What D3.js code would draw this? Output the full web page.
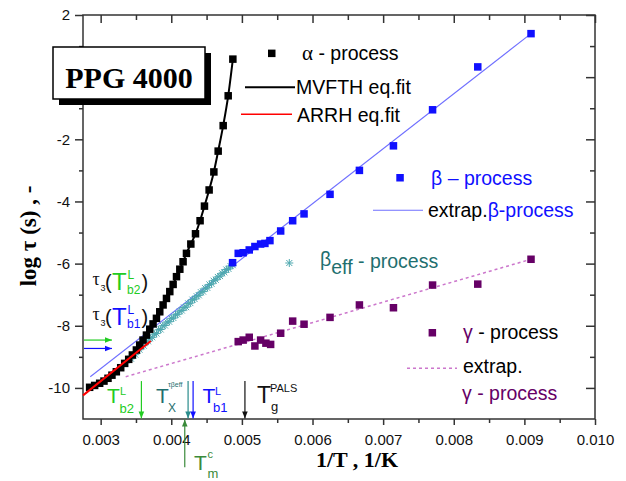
<!DOCTYPE html>
<html>
<head>
<meta charset="utf-8">
<script src="https://cdn.jsdelivr.net/npm/d3@7"></script>
<style>
  body { margin: 0; background: #fff; }
  text { font-family: "Liberation Sans", Arial, sans-serif; }
  .serif { font-family: "Liberation Serif", "Times New Roman", serif; }
</style>
</head>
<body>
<div id="chart"></div>
<script>
// ---- data ----
// alpha process (black squares, also used for the MVFTH fit curve)
const alphaX = [0.002844, 0.002915, 0.002986, 0.003047, 0.003104, 0.00316, 0.003222, 0.003284, 0.00334, 0.003397,
  0.003449, 0.003506, 0.003553, 0.0036, 0.003648, 0.003695, 0.003742, 0.00379, 0.003837, 0.003884,
  0.003932, 0.003979, 0.004026, 0.004074, 0.004121, 0.004167, 0.004215, 0.004277, 0.004343, 0.004408,
  0.00447, 0.004536, 0.004603, 0.004664, 0.004735, 0.004806, 0.004872];
const alphaY = [-9.98, -9.92, -9.85, -9.78, -9.69, -9.59, -9.48, -9.35, -9.21, -9.08,
  -8.94, -8.78, -8.62, -8.46, -8.30, -8.11, -7.94, -7.76, -7.55, -7.33,
  -7.12, -6.90, -6.67, -6.42, -6.18, -5.94, -5.67, -5.37, -5.04, -4.62,
  -4.15, -3.63, -3.05, -2.38, -1.56, -0.60, 0.58];

// beta process (blue squares)
const betaX = [0.004868, 0.004948, 0.005018, 0.005104, 0.005184, 0.005265, 0.005326, 0.005397, 0.005549,
  0.005719, 0.00588, 0.006248, 0.006664, 0.007146, 0.0077, 0.00834, 0.009094];
const betaY = [-5.97, -5.67, -5.65, -5.56, -5.45, -5.37, -5.35, -5.26, -4.95,
  -4.62, -4.40, -3.77, -3.00, -2.21, -1.05, 0.33, 1.40];

// beta_eff process (teal asterisks)
const betaEffX = [0.00340, 0.00343, 0.00346, 0.00349, 0.00352, 0.00355, 0.00358, 0.00361, 0.00364, 0.00367,
  0.00370, 0.00373, 0.00376, 0.00379, 0.00382, 0.00385, 0.00388, 0.00391, 0.00394, 0.00397,
  0.00400, 0.00403, 0.00406, 0.00409, 0.00412, 0.00415, 0.00418, 0.00421, 0.00424, 0.00427,
  0.00430, 0.00433, 0.00436, 0.00439, 0.00442, 0.00445, 0.00448, 0.00451, 0.00454, 0.00457,
  0.00460, 0.00463, 0.00466, 0.00469, 0.00472, 0.00475, 0.00478, 0.00481, 0.00484, 0.00487];
const betaEffY = [-9.10, -9.06, -8.96, -8.93, -8.80, -8.77, -8.66, -8.64, -8.52, -8.50,
  -8.40, -8.37, -8.27, -8.25, -8.13, -8.12, -8.00, -7.99, -7.88, -7.87,
  -7.76, -7.75, -7.65, -7.63, -7.53, -7.51, -7.41, -7.40, -7.28, -7.27,
  -7.16, -7.14, -7.05, -7.02, -6.92, -6.90, -6.79, -6.78, -6.67, -6.65,
  -6.55, -6.52, -6.43, -6.40, -6.31, -6.28, -6.19, -6.17, -6.08, -6.05];

// gamma process (purple squares)
const gammaX = [0.004948, 0.005018, 0.005104, 0.005184, 0.005265, 0.00534, 0.005407, 0.005549,
  0.005719, 0.00588, 0.006248, 0.006664, 0.007146, 0.0077, 0.00834, 0.009094];
const gammaY = [-8.51, -8.46, -8.37, -8.65, -8.46, -8.56, -8.60, -8.24,
  -7.85, -7.95, -7.73, -7.33, -7.42, -6.69, -6.66, -5.86];

// straight lines (end points)
const betaFitX = [0.002853, 0.009094], betaFitY = [-9.64, 1.40];
const arrhFitX = [0.00275, 0.00371], arrhFitY = [-10.24, -8.49];
const gammaFitX = [0.003355, 0.009094], gammaFitY = [-9.64, -5.86];

// ticks
const xMajor = [0.003, 0.004, 0.005, 0.006, 0.007, 0.008, 0.009, 0.010];
const xMinor = [0.0035, 0.0045, 0.0055, 0.0065, 0.0075, 0.0085, 0.0095];
const yMajor = [2, 0, -2, -4, -6, -8, -10];
const yMinor = [1, -1, -3, -5, -7, -9];

// marker arrows: temperatures on the x axis, levels on the y axis
const downArrowX = [0.003577, 0.004238, 0.004309, 0.005043];
const downArrowCol = ['#22cc22', '#2a8c8c', '#1010ff', '#111'];
const tmArrowX = 0.004191;
const levelArrowY = [-8.46, -8.73];
const levelArrowCol = ['#22cc22', '#1010ff'];

// ---- canvas ----
const W = 626, H = 481;
const svg = d3.select('#chart').append('svg')
  .attr('width', W).attr('height', H);

const x = d3.scaleLinear().domain([0.00275, 0.010]).range([83, 595]);
const y = d3.scaleLinear().domain([-11, 2]).range([419, 15]);

const green = '#22cc22', blue = '#1010ff', purple = '#660066', teal = '#1f6f6f';

// arrow head marker defs
const defs = svg.append('defs');
function marker(id, col) {
  defs.append('marker')
    .attr('id', id).attr('viewBox', '0 0 10 10')
    .attr('refX', 10).attr('refY', 5)
    .attr('markerWidth', 7).attr('markerHeight', 7)
    .attr('markerUnits', 'userSpaceOnUse')
    .attr('orient', 'auto')
    .append('path').attr('d', 'M0,1L10,5L0,9Z').attr('fill', col);
}

// ---- axes ----
const fmtX = d3.format('.3f');
const axisCol = '#333';

function styleAxis(g) {
  g.select('.domain').remove();
  g.selectAll('line').attr('stroke', axisCol).attr('stroke-width', 1.5);
  g.selectAll('text').attr('font-size', '15px').attr('fill', '#111')
    .style('font-family', '"Liberation Sans", Arial, sans-serif');
}

// bottom (outward, labelled)
svg.append('g').attr('transform', 'translate(0,419)')
  .call(d3.axisBottom(x).tickValues(xMajor).tickSize(6).tickPadding(9).tickFormat(fmtX))
  .call(styleAxis);
svg.append('g').attr('transform', 'translate(0,419)')
  .call(d3.axisBottom(x).tickValues(xMinor).tickSize(4).tickFormat(''))
  .call(styleAxis);
// top (inward)
svg.append('g').attr('transform', 'translate(0,15)')
  .call(d3.axisBottom(x).tickValues(xMajor).tickSize(8).tickFormat(''))
  .call(styleAxis);
svg.append('g').attr('transform', 'translate(0,15)')
  .call(d3.axisBottom(x).tickValues(xMinor).tickSize(5).tickFormat(''))
  .call(styleAxis);
// left (outward, labelled; the 0 label sits under the sample box)
svg.append('g').attr('transform', 'translate(83,0)')
  .call(d3.axisLeft(y).tickValues(yMajor).tickSize(8).tickPadding(5)
    .tickFormat(d => d === 0 ? '' : String(d)))
  .call(styleAxis);
svg.append('g').attr('transform', 'translate(83,0)')
  .call(d3.axisLeft(y).tickValues(yMinor).tickSize(4).tickFormat(''))
  .call(styleAxis);
// right (inward)
svg.append('g').attr('transform', 'translate(595,0)')
  .call(d3.axisLeft(y).tickValues(yMajor).tickSize(9).tickFormat(''))
  .call(styleAxis);
svg.append('g').attr('transform', 'translate(595,0)')
  .call(d3.axisLeft(y).tickValues(yMinor).tickSize(5).tickFormat(''))
  .call(styleAxis);

// frame
svg.append('rect')
  .attr('x', x(0.00275)).attr('y', y(2))
  .attr('width', x(0.010) - x(0.00275)).attr('height', y(-11) - y(2))
  .attr('fill', 'none').attr('stroke', axisCol).attr('stroke-width', 1.5);

// axis titles
svg.append('text').attr('class', 'serif')
  .attr('x', 357).attr('y', 467)
  .attr('text-anchor', 'middle')
  .attr('font-size', '22px').attr('font-weight', 'bold')
  .text('1/T , 1/K');

svg.append('text').attr('class', 'serif')
  .attr('transform', 'translate(36,236) rotate(-90)')
  .attr('text-anchor', 'middle')
  .attr('font-size', '23px').attr('font-weight', 'bold')
  .text('log \u03c4 (s) , -');

// ---- lines ----
const pts = (xs, ys) => xs.map((v, i) => [v, ys[i]]);
const line = d3.line().x(d => x(d[0])).y(d => y(d[1]));

svg.append('path').datum(pts(gammaFitX, gammaFitY))
  .attr('d', line).attr('fill', 'none')
  .attr('stroke', '#cc77cc').attr('stroke-width', 1.5).attr('stroke-dasharray', '3,3');

svg.append('path').datum(pts(betaFitX, betaFitY))
  .attr('d', line).attr('fill', 'none')
  .attr('stroke', '#6f6fff').attr('stroke-width', 1.1);

// ---- asterisks (beta_eff) ----
const star = 'M-4,0H4M0,-4V4M-3,-3L3,3M-3,3L3,-3';
svg.append('g').selectAll('path')
  .data(pts(betaEffX, betaEffY))
  .enter().append('path')
    .attr('transform', d => 'translate(' + x(d[0]) + ',' + y(d[1]) + ')')
    .attr('d', star)
    .attr('fill', 'none').attr('stroke', '#4fa9b0').attr('stroke-width', 1);

// ---- squares ----
const sq = 7.5;
function squares(xs, ys, col) {
  svg.append('g').selectAll('rect')
    .data(pts(xs, ys))
    .enter().append('rect')
      .attr('x', d => x(d[0]) - sq / 2)
      .attr('y', d => y(d[1]) - sq / 2)
      .attr('width', sq).attr('height', sq)
      .attr('fill', col);
}
squares(gammaX, gammaY, purple);
squares(betaX, betaY, blue);
squares(alphaX, alphaY, '#000');

// MVFTH fit through alpha points
svg.append('path').datum(pts(alphaX, alphaY))
  .attr('d', line.curve(d3.curveMonotoneX)).attr('fill', 'none')
  .attr('stroke', '#000').attr('stroke-width', 2);
line.curve(d3.curveLinear);

// ARRH fit
svg.append('path').datum(pts(arrhFitX, arrhFitY))
  .attr('d', line).attr('fill', 'none')
  .attr('stroke', '#ff0000').attr('stroke-width', 2);

// ---- arrows ----
downArrowX.forEach((v, i) => {
  marker('m' + i, downArrowCol[i]);
  svg.append('line')
    .attr('x1', x(v)).attr('x2', x(v))
    .attr('y1', y(-9.78)).attr('y2', y(-10.98))
    .attr('stroke', downArrowCol[i]).attr('stroke-width', 1.2)
    .attr('marker-end', 'url(#m' + i + ')');
});
marker('mtm', '#3a8a3a');
svg.append('line')
  .attr('x1', x(tmArrowX)).attr('x2', x(tmArrowX))
  .attr('y1', y(-12.55)).attr('y2', y(-11.02))
  .attr('stroke', '#3a8a3a').attr('stroke-width', 1.2)
  .attr('marker-end', 'url(#mtm)');

levelArrowY.forEach((v, i) => {
  marker('l' + i, levelArrowCol[i]);
  svg.append('line')
    .attr('x1', x(0.00275) + 1).attr('x2', x(0.00316))
    .attr('y1', y(v)).attr('y2', y(v))
    .attr('stroke', levelArrowCol[i]).attr('stroke-width', 1.2)
    .attr('marker-end', 'url(#l' + i + ')');
});

// ---- text helper: list of [text, x, y, size, colour, family] ----
function label(parts) {
  parts.forEach(p => {
    svg.append('text')
      .attr('x', p[1]).attr('y', p[2])
      .attr('font-size', p[3] + 'px')
      .attr('fill', p[4] || '#000')
      .style('font-family', p[5] || '"Liberation Sans", Arial, sans-serif')
      .text(p[0]);
  });
}
const SER = '"Liberation Serif", "Times New Roman", serif';

// tau3(T_b2), tau3(T_b1)
label([
  ['\u03c4', 92.5, 285, 18, '#111', SER], ['3', 100.5, 291, 9, '#111'],
  ['(', 105, 289, 20, '#111'], ['T', 112, 290, 24, green],
  ['L', 127.5, 279, 12, green], ['b2', 127, 294, 12, green], [')', 141.5, 289, 20, '#111'],
  ['\u03c4', 92.5, 320, 18, '#111', SER], ['3', 100.5, 326, 9, '#111'],
  ['(', 105, 324, 20, '#111'], ['T', 112, 325, 24, blue],
  ['L', 127.5, 314, 12, blue], ['b1', 127, 328, 12, blue], [')', 141.5, 324, 20, '#111']
]);

// bottom markers
label([
  ['T', 107, 403, 21, green], ['L', 120, 395, 11, green], ['b2', 119.5, 413, 13, green],
  ['T', 156, 403, 21, teal], ['X', 168, 412, 12, teal], ['\u03c4\u03b2eff', 168, 387, 7, teal],
  ['T', 202.5, 403, 21, blue], ['L', 215, 395, 11, blue], ['b1', 213, 412, 13, blue],
  ['T', 257, 403, 23, '#111'], ['PALS', 270, 392, 11, '#111'], ['g', 271, 411, 13, '#111'],
  ['T', 194, 470, 21, '#3a8a3a'], ['c', 207.5, 458, 11, '#3a8a3a'], ['m', 207.5, 478, 13, '#3a8a3a']
]);

// ---- legend ----
svg.append('rect').attr('x', 268).attr('y', 49.6).attr('width', sq).attr('height', sq).attr('fill', '#000');
svg.append('line').attr('x1', 245).attr('x2', 295).attr('y1', 87.3).attr('y2', 87.3)
  .attr('stroke', '#000').attr('stroke-width', 2);
svg.append('line').attr('x1', 241).attr('x2', 292).attr('y1', 114.3).attr('y2', 114.3)
  .attr('stroke', '#ff0000').attr('stroke-width', 1.6);
svg.append('rect').attr('x', 396.3).attr('y', 174).attr('width', sq).attr('height', sq).attr('fill', blue);
svg.append('line').attr('x1', 373).attr('x2', 423).attr('y1', 210.3).attr('y2', 210.3)
  .attr('stroke', '#6f6fff').attr('stroke-width', 1.1);
svg.append('path').attr('transform', 'translate(289.3,263)').attr('d', star)
  .attr('fill', 'none').attr('stroke', '#4fa9b0').attr('stroke-width', 1);
svg.append('rect').attr('x', 428.6).attr('y', 329).attr('width', sq).attr('height', sq).attr('fill', purple);
svg.append('line').attr('x1', 407).attr('x2', 457).attr('y1', 368.3).attr('y2', 368.3)
  .attr('stroke', '#cc77cc').attr('stroke-width', 1.5).attr('stroke-dasharray', '3,3');

const legFs = 19.5;
function legText(xp, yp, spans) {
  const t = svg.append('text').attr('x', xp).attr('y', yp).attr('font-size', legFs + 'px');
  spans.forEach(s => {
    const ts = t.append('tspan').attr('fill', s.c || '#000').text(s.t);
    if (s.dy) ts.attr('dy', s.dy);
    if (s.fs) ts.attr('font-size', s.fs + 'px');
    if (s.ser) ts.style('font-family', SER);
  });
}
legText(302, 60, [{ t: '\u03b1', ser: true, fs: 21 }, { t: ' - process' }]);
legText(296, 94, [{ t: 'MVFTH eq.fit' }]);
legText(297, 121.5, [{ t: 'ARRH eq.fit' }]);
legText(431, 185, [{ t: '\u03b2 \u2013 process', c: blue }]);
legText(428, 217, [{ t: 'extrap.' }, { t: '\u03b2-process', c: blue }]);
legText(320, 266, [{ t: '\u03b2', c: teal }, { t: 'eff', c: teal, dy: 8 }, { t: ' - process', c: teal, dy: -6 }]);
legText(463, 339, [{ t: '\u03b3', c: purple }, { t: ' - process' }]);
legText(463, 373, [{ t: 'extrap.' }]);
legText(462, 400, [{ t: '\u03b3 - process', c: purple }]);

// ---- sample name box ----
svg.append('rect').attr('x', 59).attr('y', 53).attr('width', 152).attr('height', 52).attr('fill', '#000');
svg.append('rect').attr('x', 53).attr('y', 47).attr('width', 152).attr('height', 52)
  .attr('fill', '#fff').attr('stroke', '#000').attr('stroke-width', 1.5);
svg.append('text').attr('class', 'serif')
  .attr('x', 129).attr('y', 88).attr('text-anchor', 'middle')
  .attr('font-size', '30px').attr('font-weight', 'bold')
  .text('PPG 4000');
</script>
</body>
</html>
